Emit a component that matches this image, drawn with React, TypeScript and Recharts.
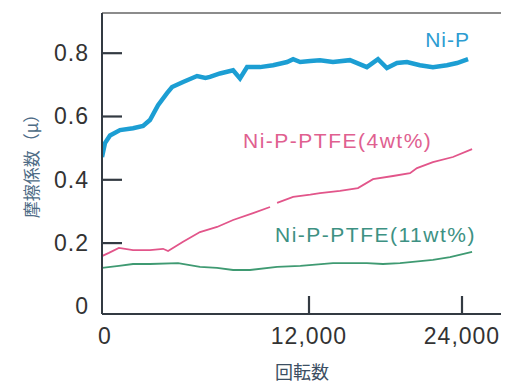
import React from 'react';
import { LineChart, Line, XAxis, YAxis, ReferenceLine } from 'recharts';

// ---- data (revolutions, friction coefficient) ----
const NIP_X = [0, 174, 464, 1044, 1800, 2380, 2780, 3250, 3770, 4060, 4700, 5510, 6000, 6260, 6840, 7600, 8000, 8410, 9160, 9920, 10730, 11080, 11490, 12100, 12860, 13880, 15210, 16540, 17410, 18110, 18900, 19680, 20700, 21720, 22820, 23610, 24470];
const NIP_Y = [0.472, 0.516, 0.54, 0.557, 0.563, 0.57, 0.589, 0.636, 0.674, 0.693, 0.709, 0.728, 0.722, 0.725, 0.736, 0.746, 0.72, 0.756, 0.756, 0.762, 0.772, 0.781, 0.772, 0.775, 0.778, 0.772, 0.778, 0.756, 0.781, 0.753, 0.769, 0.772, 0.762, 0.756, 0.762, 0.769, 0.781];

const PTFE4_X = [0, 400, 980, 1800, 2780, 3540, 3830, 4700, 5680, 6670, 7600, 8760, 9740, 9950, 10150, 11080, 12100, 12860, 14430, 15840, 17020, 18590, 19920, 20470, 21720, 23290, 24780];
const PTFE4_Y = [0.159, 0.169, 0.185, 0.178, 0.178, 0.182, 0.175, 0.204, 0.235, 0.251, 0.273, 0.295, 0.314, null, 0.327, 0.346, 0.353, 0.358, 0.365, 0.374, 0.402, 0.412, 0.421, 0.437, 0.456, 0.472, 0.497];

const PTFE11_X = [0, 980, 1800, 2780, 4410, 5680, 6670, 7600, 8580, 10150, 11500, 13880, 16540, 17800, 19140, 21720, 23060, 24780];
const PTFE11_Y = [0.122, 0.128, 0.134, 0.134, 0.137, 0.125, 0.122, 0.115, 0.115, 0.125, 0.128, 0.137, 0.137, 0.134, 0.137, 0.147, 0.156, 0.172];

const Y_TICKS = [0, 0.2, 0.4, 0.6, 0.8];
const X_TICKS = [0, 12000, 24000];
const X_TICK_LABELS = ['0', '12,000', '24,000'];
const SERIES_NAMES = ['Ni-P', 'Ni-P-PTFE(4wt%)', 'Ni-P-PTFE(11wt%)'];
const X_TITLE = '回転数';
const Y_TITLE = '摩擦係数（μ）';

const nip = NIP_X.map((x, i) => ({ x, y: NIP_Y[i] }));
const ptfe4 = PTFE4_X.map((x, i) => ({ x, y: PTFE4_Y[i] }));
const ptfe11 = PTFE11_X.map((x, i) => ({ x, y: PTFE11_Y[i] }));

// The printed axis is not evenly spaced: piecewise-linear scale through its tick marks
const X_BREAKS = [0, 12000, 24000, 27100];
const X_FRACS = [0, 0.5175, 0.9, 1];
const X_DOMAIN = [0, 27100];
const Y_DOMAIN = [-0.024, 0.927];

function piecewiseScale(dom: number[] = [0, 27100], rng: number[] = [0, 1]): any {
  const s: any = (v: number) => {
    let i = 0;
    while (i < X_BREAKS.length - 2 && v > X_BREAKS[i + 1]) i++;
    const t = (v - X_BREAKS[i]) / (X_BREAKS[i + 1] - X_BREAKS[i]);
    const f = X_FRACS[i] + t * (X_FRACS[i + 1] - X_FRACS[i]);
    return rng[0] + f * (rng[1] - rng[0]);
  };
  s.domain = (d?: number[]) => (d === undefined ? dom.slice() : ((dom = d.slice()), s));
  s.range = (r?: number[]) => (r === undefined ? rng.slice() : ((rng = r.slice()), s));
  s.copy = () => piecewiseScale(dom, rng);
  s.ticks = () => X_TICKS.slice();
  s.clamp = () => s;
  s.nice = () => s;
  s.tickFormat = () => (v: number) => String(v);
  return s;
}

const FONT = '"Liberation Sans", Arial, sans-serif';
const CJK = '"Noto Sans CJK JP", sans-serif';
const AXIS_COLOR = '#333a42';

const YTick = (props: any) => {
  const x = Number(props.x);
  const y = Number(props.y);
  const v = Number(props.payload.value);
  return (
    <g>
      {v > 0 ? <path d={`M${x},${y}H${x + 20}`} stroke={AXIS_COLOR} strokeWidth={2.2} /> : null}
      <text x={x - 13} y={y} dy={8} textAnchor="end" fontSize={23} fill="#333">
        {v === 0 ? '0' : v.toFixed(1)}
      </text>
    </g>
  );
};

const XTick = (props: any) => {
  const x = Number(props.x);
  const y = Number(props.y);
  const v = Number(props.payload.value);
  const idx = X_TICKS.indexOf(v);
  return (
    <g>
      {v > 0 ? <path d={`M${x},${y}V${y - 18}`} stroke={AXIS_COLOR} strokeWidth={2.2} /> : null}
      <text x={v === 0 ? x + 3 : x} y={y} dy={30} textAnchor="middle" fontSize={23} fill="#333">
        {X_TICK_LABELS[idx]}
      </text>
    </g>
  );
};

export default function App() {
  return (
    <div style={{ width: 501, height: 377, background: '#fff', fontFamily: FONT, letterSpacing: 1 }}>
      <LineChart width={501} height={377} margin={{ top: 5, right: 7, left: 0, bottom: 0 }}>
        <XAxis
          dataKey="x"
          type="number"
          domain={X_DOMAIN}
          scale={piecewiseScale()}
          ticks={X_TICKS}
          tick={<XTick />}
          tickLine={false}
          tickSize={0}
          tickMargin={0}
          height={71}
          axisLine={{ stroke: AXIS_COLOR, strokeWidth: 2 }}
          allowDataOverflow
        />
        <YAxis
          type="number"
          domain={Y_DOMAIN}
          ticks={Y_TICKS}
          tick={<YTick />}
          tickLine={false}
          tickSize={0}
          tickMargin={0}
          width={94}
          axisLine={{ stroke: AXIS_COLOR, strokeWidth: 2 }}
          allowDataOverflow
        />
        <ReferenceLine y={Y_DOMAIN[1]} stroke="#666" strokeWidth={1.5} />
        <ReferenceLine x={X_DOMAIN[1]} stroke="#666" strokeWidth={1.5} />
        <Line data={ptfe11} dataKey="y" name={SERIES_NAMES[2]} stroke="#3f9a72" strokeWidth={1.8} dot={false} isAnimationActive={false} type="linear" />
        <Line data={ptfe4} dataKey="y" name={SERIES_NAMES[1]} stroke="#e2558a" strokeWidth={1.8} dot={false} isAnimationActive={false} type="linear" />
        <Line data={nip} dataKey="y" name={SERIES_NAMES[0]} stroke="#1c9ed3" strokeWidth={4.5} dot={false} isAnimationActive={false} type="linear" />
        <text x={462} y={39} textAnchor="end" fontSize={21} fill="#2d9cd1" fontFamily={FONT} letterSpacing={1}>{SERIES_NAMES[0]}</text>
        <text x={235} y={140} fontSize={21} fill="#e06090" fontFamily={FONT} letterSpacing={1.5}>{SERIES_NAMES[1]}</text>
        <text x={267} y={234} fontSize={21} fill="#3d9183" fontFamily={FONT} letterSpacing={1.5}>{SERIES_NAMES[2]}</text>
        <text x={294} y={371} textAnchor="middle" fontSize={18} fill="#3c4f63" fontFamily={CJK} letterSpacing={0}>{X_TITLE}</text>
        <text x={22} y={154} transform="rotate(-90 22 154)" textAnchor="middle" dominantBaseline="central" fontSize={17} fill="#4d6b85" fontFamily={CJK} letterSpacing={0}>{Y_TITLE}</text>
      </LineChart>
    </div>
  );
}
